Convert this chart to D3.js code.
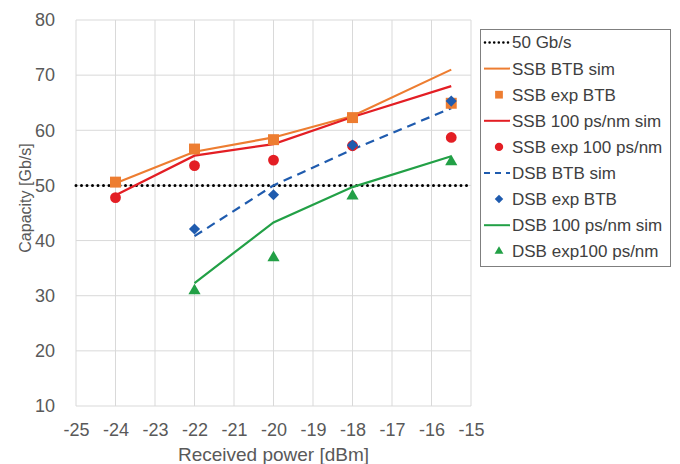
<!DOCTYPE html>
<html>
<head>
<meta charset="utf-8">
<script src="https://cdn.jsdelivr.net/npm/d3@7"></script>
<style>
  html, body { margin: 0; padding: 0; background: #fff; }
  svg { display: block; font-family: Arial, "Liberation Sans", sans-serif; }
</style>
</head>
<body>
<svg id="chart" width="680" height="464"></svg>
<script>
// Received power [dBm]
const powerSim = [-24, -22, -20, -18, -15.5];
const powerDsb = [-22, -20, -18, -15.5];

// Capacity [Gb/s]
const ssbBtbSim   = [50.4, 56.1, 58.7, 62.6, 71.0];
const ssbBtbExp   = [50.6, 56.6, 58.3, 62.3, 64.9];
const ssb100Sim   = [48.2, 55.4, 57.5, 62.4, 68.0];
const ssb100Exp   = [47.8, 53.6, 54.6, 57.2, 58.7];
const dsbBtbSim   = [40.8, 50.0, 56.5, 64.0];
const dsbBtbExp   = [42.1, 48.3, 57.3, 65.3];
const dsb100Sim   = [32.3, 43.3, 49.7, 55.3];
const dsb100Exp   = [30.9, 36.9, 48.1, 54.3];

const threshold = 50;

const xTicks = [-25, -24, -23, -22, -21, -20, -19, -18, -17, -16, -15];
const yTicks = [10, 20, 30, 40, 50, 60, 70, 80];

const C = {
  orange: "#ED7D31",
  red: "#E31E24",
  blue: "#1F5BAE",
  green: "#22A046",
  grid: "#D9D9D9",
  text: "#595959"
};

const svg = d3.select("#chart");
const margin = { left: 76, right: 209, top: 20, bottom: 58 };
const W = 680, H = 464;

const x = d3.scaleLinear().domain([-25, -15]).range([margin.left, W - margin.right]);
const y = d3.scaleLinear().domain([10, 80]).range([H - margin.bottom, margin.top]);

// gridlines
svg.append("g").selectAll("line").data(xTicks).join("line")
  .attr("x1", d => x(d)).attr("x2", d => x(d))
  .attr("y1", y(10)).attr("y2", y(80))
  .attr("stroke", C.grid).attr("stroke-width", 1);
svg.append("g").selectAll("line").data(yTicks).join("line")
  .attr("x1", x(-25)).attr("x2", x(-15))
  .attr("y1", d => y(d)).attr("y2", d => y(d))
  .attr("stroke", C.grid).attr("stroke-width", 1);

// axes (labels only)
const xAxis = svg.append("g").attr("transform", `translate(0,${y(10)})`)
  .call(d3.axisBottom(x).tickValues(xTicks).tickSize(0).tickPadding(17));
const yAxis = svg.append("g").attr("transform", `translate(${x(-25)},0)`)
  .call(d3.axisLeft(y).tickValues(yTicks).tickSize(0).tickPadding(21));
[xAxis, yAxis].forEach(a => {
  a.select(".domain").remove();
  a.selectAll("text").attr("fill", C.text).style("font-size", "18px")
    .style("font-family", "Arial, 'Liberation Sans', sans-serif");
});
xAxis.selectAll("text").text(d => String(d));

// axis titles
svg.append("text").attr("x", x(-20)).attr("y", 461).attr("text-anchor", "middle")
  .attr("fill", C.text).style("font-size", "19px").text("Received power [dBm]");
svg.append("text").attr("transform", "translate(31,198) rotate(-90)").attr("text-anchor", "middle")
  .attr("fill", C.text).style("font-size", "16px").text("Capacity [Gb/s]");

// 50 Gb/s threshold
svg.append("line")
  .attr("x1", x(-25)).attr("x2", x(-15))
  .attr("y1", y(threshold)).attr("y2", y(threshold))
  .attr("stroke", "#000").attr("stroke-width", 3)
  .attr("stroke-dasharray", "0 5.5").attr("stroke-linecap", "round");

const line = d3.line().x(d => x(d[0])).y(d => y(d[1]));
const zip = (xs, ys) => xs.map((v, i) => [v, ys[i]]);

function drawLine(xs, ys, color, dash) {
  svg.append("path").datum(zip(xs, ys)).attr("d", line)
    .attr("fill", "none").attr("stroke", color).attr("stroke-width", 2.2)
    .attr("stroke-dasharray", dash || null);
}

// marker shapes; the diamond is a square turned 45 degrees
const shapes = {
  square:   { type: d3.symbolSquare,   rot: 0 },
  circle:   { type: d3.symbolCircle,   rot: 0 },
  diamond:  { type: d3.symbolSquare,   rot: 45 },
  triangle: { type: d3.symbolTriangle, rot: 0 }
};
const plotSize = { square: 120, circle: 92, diamond: 62, triangle: 64 };
const legendSize = { square: 60, circle: 55, diamond: 36, triangle: 34 };

function drawMarks(xs, ys, color, shape) {
  svg.append("g").selectAll("path").data(zip(xs, ys)).join("path")
    .attr("transform", d => `translate(${x(d[0])},${y(d[1])}) rotate(${shapes[shape].rot})`)
    .attr("d", d3.symbol().type(shapes[shape].type).size(plotSize[shape])())
    .attr("fill", color);
}

drawLine(powerSim, ssbBtbSim, C.orange);
drawLine(powerSim, ssb100Sim, C.red);
drawLine(powerDsb, dsbBtbSim, C.blue, "9 6");
drawLine(powerDsb, dsb100Sim, C.green);

drawMarks(powerSim, ssbBtbExp, C.orange, "square");
drawMarks(powerSim, ssb100Exp, C.red, "circle");
drawMarks(powerDsb, dsbBtbExp, C.blue, "diamond");
drawMarks(powerDsb, dsb100Exp, C.green, "triangle");

// legend
const legendItems = [
  { label: "50 Gb/s", kind: "line", color: "#000", dots: true },
  { label: "SSB BTB sim", kind: "line", color: C.orange },
  { label: "SSB exp BTB", kind: "mark", color: C.orange, shape: "square" },
  { label: "SSB 100 ps/nm sim", kind: "line", color: C.red },
  { label: "SSB exp 100 ps/nm", kind: "mark", color: C.red, shape: "circle" },
  { label: "DSB BTB sim", kind: "line", color: C.blue, dash: "6 5" },
  { label: "DSB exp BTB", kind: "mark", color: C.blue, shape: "diamond" },
  { label: "DSB 100 ps/nm sim", kind: "line", color: C.green },
  { label: "DSB exp100 ps/nm", kind: "mark", color: C.green, shape: "triangle" }
];
svg.append("rect").attr("x", 480.5).attr("y", 29.5).attr("width", 190).attr("height", 237)
  .attr("fill", "#fff").attr("stroke", "#7f7f7f").attr("stroke-width", 1);
const lg = svg.append("g").selectAll("g").data(legendItems).join("g")
  .attr("transform", (d, i) => `translate(0,${42.5 + i * 26.1})`);
lg.filter(d => d.kind === "line").append("line")
  .attr("x1", d => d.dots ? 485 : 484).attr("x2", 510).attr("y1", 0).attr("y2", 0)
  .attr("stroke", d => d.color)
  .attr("stroke-width", d => d.dots ? 2.6 : 2)
  .attr("stroke-linecap", d => d.dots ? "round" : "butt")
  .attr("stroke-dasharray", d => d.dots ? "0 4.6" : (d.dash || null));
lg.filter(d => d.kind === "mark").append("path")
  .attr("transform", d => `translate(499,0) rotate(${shapes[d.shape].rot})`)
  .attr("d", d => d3.symbol().type(shapes[d.shape].type).size(legendSize[d.shape])())
  .attr("fill", d => d.color);
lg.append("text").attr("x", 512).attr("y", 0).attr("dy", "0.35em")
  .attr("fill", "#404040").style("font-size", "17px").text(d => d.label);
</script>
</body>
</html>
